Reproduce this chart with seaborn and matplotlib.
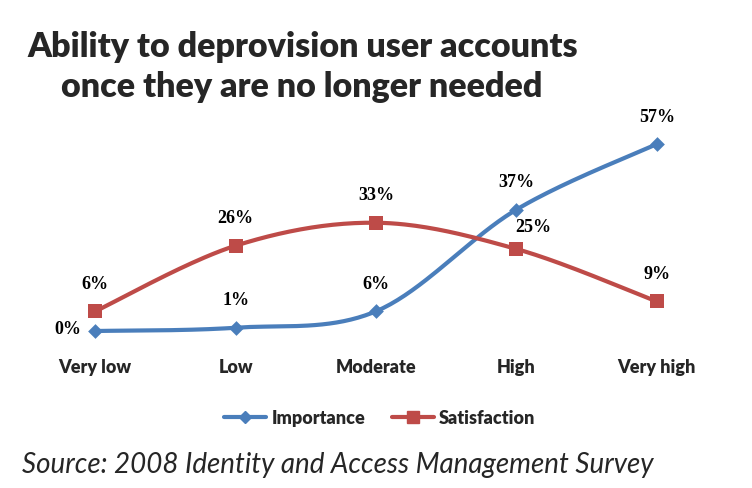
import numpy as np
import pandas as pd
import seaborn as sns
import matplotlib
matplotlib.use("Agg")
import matplotlib.pyplot as plt
from matplotlib.lines import Line2D

categories = ["Very low", "Low", "Moderate", "High", "Very high"]
importance = [0, 1, 6, 37, 57]
satisfaction = [6, 26, 33, 25, 9]

sns.set_theme(style="white")
plt.rcParams['font.family'] = ['Lato', 'DejaVu Sans']

W, H = 752, 489
fig = plt.figure(figsize=(W / 100, H / 100), dpi=100)
ymin, ymax = -2, 60
ppu = 187 / 57
bottom_px = 332 + 2 * ppu
top_px = 332 - 60 * ppu
ax = fig.add_axes([25 / W, 1 - bottom_px / H, 702 / W, (bottom_px - top_px) / H])
ax.set_xlim(-0.5, 4.5)
ax.set_ylim(ymin, ymax)

def smooth(xs, ys, n=40):
    xs = np.asarray(xs, float); ys = np.asarray(ys, float)
    P = np.column_stack([xs, ys])
    out = []
    for i in range(len(P) - 1):
        p0 = P[i - 1] if i > 0 else P[i]
        p1, p2 = P[i], P[i + 1]
        p3 = P[i + 2] if i + 2 < len(P) else P[i + 1]
        c1 = p1 + (p2 - p0) / 6
        c2 = p2 - (p3 - p1) / 6
        t = np.linspace(0, 1, n)[:, None]
        seg = (1 - t) ** 3 * p1 + 3 * (1 - t) ** 2 * t * c1 + 3 * (1 - t) * t ** 2 * c2 + t ** 3 * p2
        out.append(seg if i == 0 else seg[1:])
    return np.vstack(out)

blue = "#4A7EBB"
red = "#BE4B48"
x = np.arange(len(categories))
df = pd.DataFrame({"cat": x, "Importance": importance, "Satisfaction": satisfaction})

for col, color, marker, ms in [("Importance", blue, "D", 7.5), ("Satisfaction", red, "s", 10.5)]:
    s = smooth(df["cat"], df[col])
    ax.plot(s[:, 0], s[:, 1], color=color, lw=3, zorder=2)
    sns.scatterplot(x="cat", y=col, data=df, ax=ax, color=color, marker=marker,
                    s=ms ** 2, edgecolor=color, linewidth=0, zorder=3, legend=False)

lab_font = dict(family="Liberation Serif", fontweight="bold", fontsize=13, color="black")
for i, v in enumerate(importance):
    if i == 0:
        ax.annotate(f"{v}%", (i, v), xytext=(-20, 2), textcoords="offset points",
                    ha="center", va="center", **lab_font)
    else:
        ax.annotate(f"{v}%", (i, v), xytext=(0, 20), textcoords="offset points",
                    ha="center", va="center", **lab_font)
for i, v in enumerate(satisfaction):
    if i == 3:
        ax.annotate(f"{v}%", (i, v), xytext=(12, 16), textcoords="offset points",
                    ha="center", va="center", **lab_font)
    else:
        ax.annotate(f"{v}%", (i, v), xytext=(0, 20), textcoords="offset points",
                    ha="center", va="center", **lab_font)

ax.set_xticks(x)
ax.set_xticklabels(categories, fontsize=13, fontweight="heavy")
ax.tick_params(axis="x", length=0, pad=15)
ax.set_yticks([])
ax.set_xlabel(""); ax.set_ylabel("")
for sp in ax.spines.values():
    sp.set_visible(False)

fig.text(303 / W, 1 - 47 / H, "Ability to deprovision user accounts", ha="center", va="center",
         fontsize=24.5, fontweight="heavy")
fig.text(302 / W, 1 - 87 / H, "once they are no longer needed", ha="center", va="center",
         fontsize=24.5, fontweight="heavy")

handles = [Line2D([0], [0], color=blue, lw=3, marker="D", markersize=6.5),
           Line2D([0], [0], color=red, lw=3, marker="s", markersize=9)]
fig.legend(handles, ["Importance", "Satisfaction"], loc="center", bbox_to_anchor=(380 / W, 1 - 419 / H),
           ncol=2, frameon=False, prop=dict(weight="heavy", size=13), handlelength=2.3,
           columnspacing=1.5, handletextpad=0.3)

fig.text(22 / W, 1 - 465 / H, "Source: 2008 Identity and Access Management Survey", ha="left", va="center",
         fontsize=20, style="italic")

fig.savefig("out.png", dpi=100)
